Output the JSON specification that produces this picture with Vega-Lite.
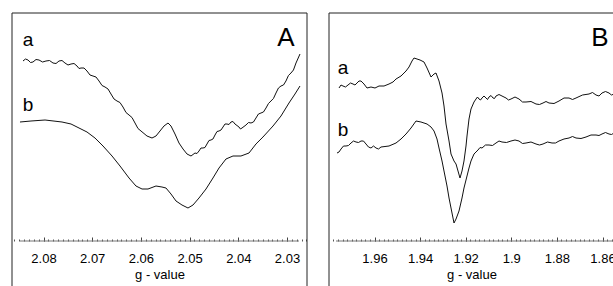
{
  "$schema": "https://vega.github.io/schema/vega-lite/v6.json",
  "padding": {"left": 11, "top": 12, "right": 0, "bottom": 0},
  "config": {"view": {"stroke": null}, "font": "Liberation Sans"},
  "spacing": 22,
  "bounds": "flush",
  "datasets": {
    "A": [
      {"series":"a","g":2.08421,"y":226},{"series":"a","g":2.08318,"y":227},{"series":"a","g":2.08216,"y":225},{"series":"a","g":2.08092,"y":227},{"series":"a","g":2.07949,"y":226},{"series":"a","g":2.07805,"y":224},{"series":"a","g":2.07682,"y":226},{"series":"a","g":2.07559,"y":224},{"series":"a","g":2.07435,"y":223},{"series":"a","g":2.07312,"y":221},{"series":"a","g":2.07230,"y":219},{"series":"a","g":2.07107,"y":216},{"series":"a","g":2.06984,"y":211},{"series":"a","g":2.06860,"y":206},{"series":"a","g":2.06737,"y":200},{"series":"a","g":2.06614,"y":193},{"series":"a","g":2.06491,"y":186},{"series":"a","g":2.06368,"y":180},{"series":"a","g":2.06244,"y":172},{"series":"a","g":2.06121,"y":164},{"series":"a","g":2.05998,"y":156},{"series":"a","g":2.05875,"y":151},{"series":"a","g":2.05772,"y":149},{"series":"a","g":2.05690,"y":151},{"series":"a","g":2.05608,"y":156},{"series":"a","g":2.05526,"y":161},{"series":"a","g":2.05443,"y":164},{"series":"a","g":2.05382,"y":161},{"series":"a","g":2.05300,"y":153},{"series":"a","g":2.05218,"y":144},{"series":"a","g":2.05135,"y":138},{"series":"a","g":2.05053,"y":133},{"series":"a","g":2.04971,"y":131},{"series":"a","g":2.04889,"y":134},{"series":"a","g":2.04807,"y":136},{"series":"a","g":2.04725,"y":139},{"series":"a","g":2.04643,"y":143},{"series":"a","g":2.04561,"y":147},{"series":"a","g":2.04478,"y":152},{"series":"a","g":2.04396,"y":156},{"series":"a","g":2.04314,"y":160},{"series":"a","g":2.04232,"y":163},{"series":"a","g":2.04150,"y":165},{"series":"a","g":2.04068,"y":163},{"series":"a","g":2.03986,"y":160},{"series":"a","g":2.03924,"y":159},{"series":"a","g":2.03842,"y":162},{"series":"a","g":2.03739,"y":164},{"series":"a","g":2.03637,"y":169},{"series":"a","g":2.03534,"y":174},{"series":"a","g":2.03431,"y":179},{"series":"a","g":2.03329,"y":186},{"series":"a","g":2.03226,"y":194},{"series":"a","g":2.03123,"y":201},{"series":"a","g":2.03021,"y":206},{"series":"a","g":2.02918,"y":214},{"series":"a","g":2.02815,"y":224},{"series":"a","g":2.02733,"y":233},
      {"series":"a","g":2.08370,"y":228},{"series":"a","g":2.08267,"y":224.5},{"series":"a","g":2.08154,"y":227.5},{"series":"a","g":2.08020,"y":225},{"series":"a","g":2.07877,"y":226.5},{"series":"a","g":2.07743,"y":223.5},{"series":"a","g":2.07620,"y":226.5},{"series":"a","g":2.07497,"y":222},{"series":"a","g":2.07373,"y":223.5},{"series":"a","g":2.07271,"y":218.5},{"series":"a","g":2.07168,"y":219},{"series":"a","g":2.07045,"y":212},{"series":"a","g":2.06922,"y":210},{"series":"a","g":2.06798,"y":201.5},{"series":"a","g":2.06675,"y":198},{"series":"a","g":2.06552,"y":188},{"series":"a","g":2.06430,"y":184.5},{"series":"a","g":2.06306,"y":174.5},{"series":"a","g":2.06183,"y":169.5},{"series":"a","g":2.06060,"y":158.5},
      {"series":"a","g":2.04848,"y":133.5},{"series":"a","g":2.04766,"y":139},{"series":"a","g":2.04684,"y":139.5},{"series":"a","g":2.04602,"y":146.5},{"series":"a","g":2.04520,"y":148},{"series":"a","g":2.04437,"y":155.5},{"series":"a","g":2.04355,"y":157},{"series":"a","g":2.04273,"y":163},{"series":"a","g":2.04191,"y":162.5},{"series":"a","g":2.04109,"y":165.5},{"series":"a","g":2.03955,"y":158},{"series":"a","g":2.03790,"y":164.5},{"series":"a","g":2.03688,"y":165},{"series":"a","g":2.03586,"y":173},{"series":"a","g":2.03483,"y":175},{"series":"a","g":2.03380,"y":183.5},{"series":"a","g":2.03278,"y":188.5},{"series":"a","g":2.03175,"y":199},{"series":"a","g":2.03072,"y":202},{"series":"a","g":2.02970,"y":211.5},{"series":"a","g":2.02867,"y":217},
      {"series":"b","g":2.08483,"y":165},{"series":"b","g":2.08257,"y":166},{"series":"b","g":2.07969,"y":167},{"series":"b","g":2.07620,"y":165},{"series":"b","g":2.07435,"y":163},{"series":"b","g":2.07271,"y":159},{"series":"b","g":2.07107,"y":155},{"series":"b","g":2.06943,"y":149},{"series":"b","g":2.06778,"y":141},{"series":"b","g":2.06593,"y":131},{"series":"b","g":2.06429,"y":121},{"series":"b","g":2.06244,"y":109},{"series":"b","g":2.06101,"y":101},{"series":"b","g":2.05977,"y":98},{"series":"b","g":2.05854,"y":98},{"series":"b","g":2.05690,"y":101},{"series":"b","g":2.05567,"y":100},{"series":"b","g":2.05485,"y":99},{"series":"b","g":2.05382,"y":93},{"series":"b","g":2.05279,"y":86},{"series":"b","g":2.05156,"y":82},{"series":"b","g":2.05033,"y":79},{"series":"b","g":2.04930,"y":82},{"series":"b","g":2.04807,"y":89},{"series":"b","g":2.04663,"y":98},{"series":"b","g":2.04520,"y":109},{"series":"b","g":2.04396,"y":119},{"series":"b","g":2.04253,"y":128},{"series":"b","g":2.04109,"y":131},{"series":"b","g":2.03945,"y":131},{"series":"b","g":2.03780,"y":134},{"series":"b","g":2.03637,"y":143},{"series":"b","g":2.03493,"y":150},{"series":"b","g":2.03287,"y":161},{"series":"b","g":2.03123,"y":171},{"series":"b","g":2.02959,"y":184},{"series":"b","g":2.02836,"y":193},{"series":"b","g":2.02733,"y":201}
    ],
    "B": [
      {"series":"a","g":1.97557,"y":199},{"series":"a","g":1.97382,"y":201},{"series":"a","g":1.97162,"y":202},{"series":"a","g":1.96943,"y":203},{"series":"a","g":1.96768,"y":204},{"series":"a","g":1.96592,"y":206},{"series":"a","g":1.96461,"y":203},{"series":"a","g":1.96329,"y":199},{"series":"a","g":1.96154,"y":200},{"series":"a","g":1.95978,"y":199},{"series":"a","g":1.95803,"y":201},{"series":"a","g":1.95583,"y":201},{"series":"a","g":1.95364,"y":203},{"series":"a","g":1.95189,"y":205},{"series":"a","g":1.95057,"y":208},{"series":"a","g":1.94838,"y":211},{"series":"a","g":1.94618,"y":216},{"series":"a","g":1.94487,"y":220},{"series":"a","g":1.94355,"y":226},{"series":"a","g":1.94268,"y":229},{"series":"a","g":1.94136,"y":228},{"series":"a","g":1.94004,"y":227},{"series":"a","g":1.93829,"y":225},{"series":"a","g":1.93697,"y":219},{"series":"a","g":1.93522,"y":210},{"series":"a","g":1.93390,"y":213},{"series":"a","g":1.93303,"y":214},{"series":"a","g":1.93171,"y":206},{"series":"a","g":1.93039,"y":194},{"series":"a","g":1.92952,"y":181},{"series":"a","g":1.92864,"y":163},{"series":"a","g":1.92732,"y":146},{"series":"a","g":1.92645,"y":133},{"series":"a","g":1.92513,"y":126},{"series":"a","g":1.92425,"y":123},{"series":"a","g":1.92338,"y":116},{"series":"a","g":1.92250,"y":109},{"series":"a","g":1.92162,"y":116},{"series":"a","g":1.92075,"y":126},{"series":"a","g":1.91987,"y":141},{"series":"a","g":1.91943,"y":151},{"series":"a","g":1.91855,"y":168},{"series":"a","g":1.91768,"y":178},{"series":"a","g":1.91636,"y":185},{"series":"a","g":1.91548,"y":188},{"series":"a","g":1.91417,"y":188},{"series":"a","g":1.91285,"y":189},{"series":"a","g":1.91110,"y":189},{"series":"a","g":1.90978,"y":190},{"series":"a","g":1.90803,"y":189},{"series":"a","g":1.90671,"y":191},{"series":"a","g":1.90408,"y":191},{"series":"a","g":1.90232,"y":189},{"series":"a","g":1.90013,"y":188},{"series":"a","g":1.89662,"y":188},{"series":"a","g":1.89355,"y":185},{"series":"a","g":1.88917,"y":183},{"series":"a","g":1.88610,"y":184},{"series":"a","g":1.88346,"y":184},{"series":"a","g":1.87908,"y":186},{"series":"a","g":1.87469,"y":189},{"series":"a","g":1.87162,"y":189},{"series":"a","g":1.86592,"y":193},{"series":"a","g":1.86285,"y":192},{"series":"a","g":1.86022,"y":194},{"series":"a","g":1.85715,"y":194},{"series":"a","g":1.85496,"y":193},
      {"series":"a","g":1.97470,"y":202},{"series":"a","g":1.97272,"y":200},{"series":"a","g":1.97053,"y":204},{"series":"a","g":1.96856,"y":202},{"series":"a","g":1.96680,"y":206},
      {"series":"a","g":1.91483,"y":190},{"series":"a","g":1.91351,"y":187},{"series":"a","g":1.91198,"y":191},{"series":"a","g":1.91044,"y":187.5},{"series":"a","g":1.90890,"y":191.5},{"series":"a","g":1.90737,"y":188.5},{"series":"a","g":1.90540,"y":192.5},{"series":"a","g":1.90320,"y":190},{"series":"a","g":1.90123,"y":187},{"series":"a","g":1.89838,"y":190},{"series":"a","g":1.89509,"y":185},{"series":"a","g":1.89136,"y":185.5},{"series":"a","g":1.88764,"y":182.5},{"series":"a","g":1.88478,"y":185.5},{"series":"a","g":1.88127,"y":183.5},{"series":"a","g":1.87689,"y":189},{"series":"a","g":1.87316,"y":187.5},{"series":"a","g":1.86877,"y":192},{"series":"a","g":1.86439,"y":194.5},{"series":"a","g":1.86154,"y":191},{"series":"a","g":1.85869,"y":195.5},{"series":"a","g":1.85606,"y":192},
      {"series":"b","g":1.97645,"y":134},{"series":"b","g":1.97469,"y":138},{"series":"b","g":1.97250,"y":141},{"series":"b","g":1.97031,"y":144},{"series":"b","g":1.96811,"y":145},{"series":"b","g":1.96592,"y":146},{"series":"b","g":1.96373,"y":143},{"series":"b","g":1.96154,"y":139},{"series":"b","g":1.95934,"y":139},{"series":"b","g":1.95715,"y":140},{"series":"b","g":1.95364,"y":141},{"series":"b","g":1.95057,"y":144},{"series":"b","g":1.94838,"y":148},{"series":"b","g":1.94618,"y":153},{"series":"b","g":1.94399,"y":159},{"series":"b","g":1.94180,"y":166},{"series":"b","g":1.93961,"y":165},{"series":"b","g":1.93697,"y":163},{"series":"b","g":1.93522,"y":160},{"series":"b","g":1.93390,"y":156},{"series":"b","g":1.93259,"y":148},{"series":"b","g":1.93171,"y":139},{"series":"b","g":1.93039,"y":126},{"series":"b","g":1.92952,"y":116},{"series":"b","g":1.92820,"y":101},{"series":"b","g":1.92732,"y":89},{"series":"b","g":1.92601,"y":74},{"series":"b","g":1.92513,"y":64},{"series":"b","g":1.92425,"y":68},{"series":"b","g":1.92294,"y":76},{"series":"b","g":1.92162,"y":89},{"series":"b","g":1.92075,"y":99},{"series":"b","g":1.91943,"y":111},{"series":"b","g":1.91855,"y":119},{"series":"b","g":1.91768,"y":126},{"series":"b","g":1.91636,"y":133},{"series":"b","g":1.91461,"y":137},{"series":"b","g":1.91285,"y":139},{"series":"b","g":1.90978,"y":142},{"series":"b","g":1.90671,"y":144},{"series":"b","g":1.90408,"y":145},{"series":"b","g":1.90013,"y":146},{"series":"b","g":1.89662,"y":146},{"series":"b","g":1.89355,"y":144},{"series":"b","g":1.88917,"y":143},{"series":"b","g":1.88610,"y":143},{"series":"b","g":1.88215,"y":144},{"series":"b","g":1.87908,"y":146},{"series":"b","g":1.87469,"y":149},{"series":"b","g":1.87162,"y":149},{"series":"b","g":1.86724,"y":150},{"series":"b","g":1.86285,"y":152},{"series":"b","g":1.86022,"y":153},{"series":"b","g":1.85715,"y":153},{"series":"b","g":1.85496,"y":154},
      {"series":"b","g":1.97557,"y":135},{"series":"b","g":1.97360,"y":141},{"series":"b","g":1.97141,"y":141.5},{"series":"b","g":1.96921,"y":146},{"series":"b","g":1.96702,"y":144.5},{"series":"b","g":1.96483,"y":146},{"series":"b","g":1.96264,"y":140},{"series":"b","g":1.96044,"y":141},{"series":"b","g":1.95825,"y":138},
      {"series":"b","g":1.91373,"y":139.5},{"series":"b","g":1.91132,"y":142},{"series":"b","g":1.90825,"y":141.5},{"series":"b","g":1.90540,"y":146},{"series":"b","g":1.90211,"y":144.5},{"series":"b","g":1.89838,"y":147},{"series":"b","g":1.89509,"y":143.5},{"series":"b","g":1.89136,"y":145},{"series":"b","g":1.88764,"y":142},{"series":"b","g":1.88412,"y":145},{"series":"b","g":1.88062,"y":144},{"series":"b","g":1.87689,"y":148},{"series":"b","g":1.87316,"y":150.5},{"series":"b","g":1.86943,"y":148.5},{"series":"b","g":1.86505,"y":152},{"series":"b","g":1.86154,"y":151.5},{"series":"b","g":1.85869,"y":154.5},{"series":"b","g":1.85606,"y":152.5}
    ],
    "labA": [{"g":2.08318,"y":241,"t":"a"},{"g":2.08318,"y":176,"t":"b"}],
    "bigA": [{"g":2.03021,"y":241,"t":"A"}],
    "labB": [{"g":1.97382,"y":213,"t":"a"},{"g":1.97382,"y":151,"t":"b"}],
    "bigB": [{"g":1.86110,"y":241,"t":"B"}]
  },
  "hconcat": [
    {
      "width": 295, "height": 274,
      "resolve": {"axis": {"x": "independent"}},
      "layer": [
        {"data": {"values": [{}]}, "mark": {"type": "rule", "color": "#222", "strokeWidth": 1},
         "encoding": {"x": {"datum": 2.08647, "type": "quantitative", "axis": null}, "y": {"datum": 0, "type": "quantitative", "axis": null}, "y2": {"datum": 274}}},
        {"data": {"values": [{}]}, "mark": {"type": "rule", "color": "#222", "strokeWidth": 1},
         "encoding": {"x": {"datum": 2.02589, "type": "quantitative", "axis": null}, "y": {"datum": 0, "type": "quantitative", "axis": null}, "y2": {"datum": 274}}},
        {"data": {"values": [{}]}, "mark": {"type": "rule", "color": "#222", "strokeWidth": 1},
         "encoding": {"x": {"datum": 2.08647, "type": "quantitative", "axis": null}, "x2": {"datum": 2.02589}, "y": {"datum": 274, "type": "quantitative", "axis": null}}},
        {"data": {"values": [{}]}, "mark": {"type": "rule", "color": "#777", "strokeWidth": 1},
         "encoding": {"x": {"datum": 2.08483, "type": "quantitative",
            "axis": {"orient": "bottom", "offset": -46, "tickCount": 60, "labels": false, "title": null, "domain": false, "grid": false, "tickSize": -2, "tickColor": "#555", "tickWidth": 1}},
           "x2": {"datum": 2.02754}, "y": {"datum": 46, "type": "quantitative", "axis": null}}},
        {"data": {"name": "A"}, "mark": {"type": "line", "color": "#111", "strokeWidth": 1},
         "encoding": {
           "x": {"field": "g", "type": "quantitative", "scale": {"domain": [2.02589, 2.08647], "reverse": true, "nice": false, "zero": false},
             "axis": {"orient": "bottom", "offset": -46, "values": [2.08, 2.07, 2.06, 2.05, 2.04, 2.03], "format": ".3~f", "domain": false, "grid": false, "tickSize": -4, "tickColor": "#444", "tickWidth": 1, "labelFont": "Liberation Sans", "labelFontSize": 13, "labelColor": "#000", "labelPadding": 15, "labelFlush": false, "labelOverlap": false, "title": "g - value", "titleFont": "Liberation Sans", "titleFontSize": 13, "titleFontWeight": "normal", "titleColor": "#000", "titlePadding": 3}},
           "y": {"field": "y", "type": "quantitative", "scale": {"domain": [0, 274], "nice": false, "zero": false}, "axis": null},
           "detail": {"field": "series"}}},
        {"data": {"name": "labA"}, "mark": {"type": "text", "font": "Liberation Sans", "fontSize": 19, "align": "center", "baseline": "alphabetic", "color": "#000"},
         "encoding": {"x": {"field": "g", "type": "quantitative", "axis": null}, "y": {"field": "y", "type": "quantitative", "axis": null}, "text": {"field": "t"}}},
        {"data": {"name": "bigA"}, "mark": {"type": "text", "font": "Liberation Sans", "fontSize": 26, "align": "center", "baseline": "alphabetic", "color": "#000"},
         "encoding": {"x": {"field": "g", "type": "quantitative", "axis": null}, "y": {"field": "y", "type": "quantitative", "axis": null}, "text": {"field": "t"}}}
      ]
    },
    {
      "width": 285, "height": 274,
      "resolve": {"axis": {"x": "independent"}},
      "layer": [
        {"data": {"values": [{}]}, "mark": {"type": "rule", "color": "#222", "strokeWidth": 1},
         "encoding": {"x": {"datum": 1.97996, "type": "quantitative", "axis": null}, "y": {"datum": 0, "type": "quantitative", "axis": null}, "y2": {"datum": 274}}},
        {"data": {"values": [{}]}, "mark": {"type": "rule", "color": "#222", "strokeWidth": 1},
         "encoding": {"x": {"datum": 1.97996, "type": "quantitative", "axis": null}, "x2": {"datum": 1.85496}, "y": {"datum": 274, "type": "quantitative", "axis": null}}},
        {"data": {"values": [{}]}, "mark": {"type": "rule", "color": "#777", "strokeWidth": 1},
         "encoding": {"x": {"datum": 1.97689, "type": "quantitative",
            "axis": {"orient": "bottom", "offset": -46, "tickCount": 62, "labels": false, "title": null, "domain": false, "grid": false, "tickSize": -2, "tickColor": "#555", "tickWidth": 1}},
           "x2": {"datum": 1.85496}, "y": {"datum": 46, "type": "quantitative", "axis": null}}},
        {"data": {"name": "B"}, "mark": {"type": "line", "color": "#111", "strokeWidth": 1},
         "encoding": {
           "x": {"field": "g", "type": "quantitative", "scale": {"domain": [1.85496, 1.97996], "reverse": true, "nice": false, "zero": false},
             "axis": {"orient": "bottom", "offset": -46, "values": [1.96, 1.94, 1.92, 1.9, 1.88, 1.86], "format": ".3~f", "domain": false, "grid": false, "tickSize": -4, "tickColor": "#444", "tickWidth": 1, "labelFont": "Liberation Sans", "labelFontSize": 13, "labelColor": "#000", "labelPadding": 15, "labelFlush": false, "labelOverlap": false, "title": "g - value", "titleFont": "Liberation Sans", "titleFontSize": 13, "titleFontWeight": "normal", "titleColor": "#000", "titlePadding": 3}},
           "y": {"field": "y", "type": "quantitative", "scale": {"domain": [0, 274], "nice": false, "zero": false}, "axis": null},
           "detail": {"field": "series"}}},
        {"data": {"name": "labB"}, "mark": {"type": "text", "font": "Liberation Sans", "fontSize": 19, "align": "center", "baseline": "alphabetic", "color": "#000"},
         "encoding": {"x": {"field": "g", "type": "quantitative", "axis": null}, "y": {"field": "y", "type": "quantitative", "axis": null}, "text": {"field": "t"}}},
        {"data": {"name": "bigB"}, "mark": {"type": "text", "font": "Liberation Sans", "fontSize": 26, "align": "center", "baseline": "alphabetic", "color": "#000"},
         "encoding": {"x": {"field": "g", "type": "quantitative", "axis": null}, "y": {"field": "y", "type": "quantitative", "axis": null}, "text": {"field": "t"}}}
      ]
    }
  ]
}
